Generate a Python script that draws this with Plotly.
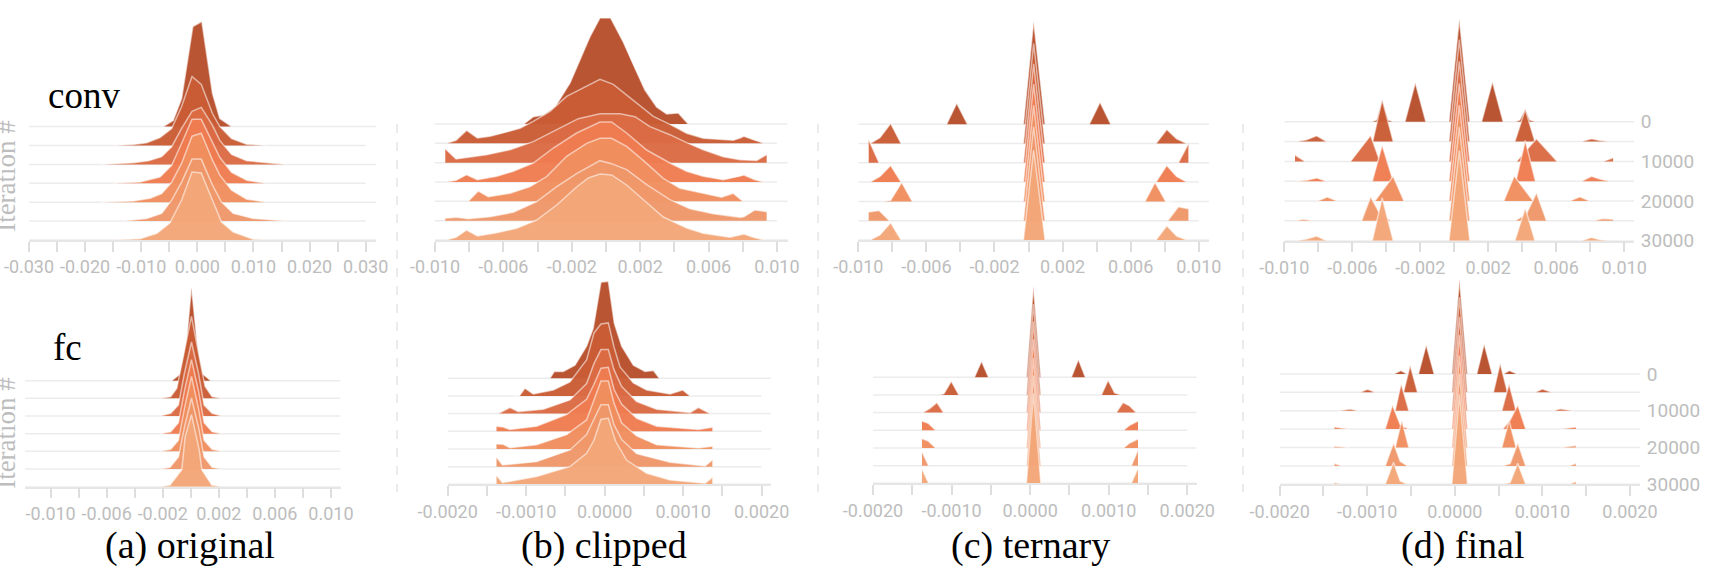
import plotly.graph_objects as go

W, H = 1717, 583
N = None

iterations = [0, 5000, 10000, 15000, 20000, 25000, 30000]
row_colors = ["#b84f2c", "#c95d36", "#db6b44", "#f07d52", "#ef8e5f", "#f0986a", "#f3a678"]

# x is in thousandths of the gradient value; h is the ridge height
conv_original_x = [
    [-6.06, -4.3, -2.8, -0.8, 0.8, 2.7, 4.0, 6.1],
    [-14.96, -11.4, -9.03, -6.65, -4.57, -2.8, -0.95, 0.7, 2.7, 4.0, 6.1, 8.8, 12.35],
    [-17.3, -11.4, -8.7, -6.35, -4.57, -2.8, -0.95, 0.7, 2.7, 4.0, 6.1, 8.8, 15.9],
    [-14.96, -10.2, -6.65, -4.57, -2.8, -0.95, 0.7, 2.7, 4.0, 6.1, 8.8, 12.35],
    [-17.3, -11.4, -8.4, -6.35, -4.57, -2.8, -0.95, 0.7, 2.7, 4.0, 6.1, 8.8, 12.35],
    [-13.2, -9.03, -6.35, -4.57, -2.8, -0.95, 0.7, 2.7, 4.3, 6.4, 9.98, 15.9],
    [-14.96, -10.2, -7.2, -4.9, -2.8, -0.95, 0.7, 2.7, 4.3, 6.4, 9.98, 12.35],
]
conv_original_h = [
    [0, 6, 28, 100, 105, 33, 8, 0],
    [0, 1, 2.7, 8, 17, 39, 69, 61, 32, 19, 7, 1.3, 0],
    [0, 1.7, 3.7, 7.7, 17.7, 36, 53, 57, 39, 24, 10, 3.7, 0],
    [0, 1.3, 6.3, 18, 40, 64, 64, 41, 26, 11, 3, 0],
    [0, 1.3, 4, 8.7, 20, 39, 66, 69, 42, 27, 12, 3, 0],
    [0, 2.7, 7.7, 21, 39, 62, 62, 36, 19, 7.7, 2.7, 0],
    [0, 1.3, 6.7, 17, 40, 68, 67, 40, 18, 8, 0.7, 0],
]

conv_clipped_x = [
    [-4.8, -4.25, -3.66, -2.98, -2.1, -1.52, -0.94, -0.35, 0.27, 1.01, 1.6, 2.28, 2.96, 3.55, 4.23, 4.81],
    [-9.32, -8.77, -8.15, -7.52, -6.78, -6.0, -5.03, -4.25, -3.27, -2.3, -0.35, 0.43, 1.79, 2.77, 3.74, 4.72, 5.69, 7.45, 7.84, 8.07, 8.62, 9.24],
    [-9.4, -8.77, -6.98, -5.61, -4.25, -2.88, -1.62, -0.35, 0.82, 1.7, 2.57, 3.74, 4.72, 5.69, 6.86, 7.84, 8.81, 9.4],
    [-9.36, -8.77, -8.15, -7.52, -6.39, -5.42, -4.25, -3.08, -1.72, -0.35, 0.33, 1.21, 2.38, 3.74, 4.72, 5.69, 6.86, 7.84, 8.07, 8.71, 9.24],
    [-8.05, -7.47, -6.88, -5.61, -4.44, -3.47, -2.3, -1.13, -0.35, 0.33, 1.21, 2.18, 3.35, 4.33, 5.69, 6.76, 7.45, 7.84, 8.03],
    [-9.4, -8.77, -8.05, -6.78, -5.42, -4.05, -2.88, -1.72, -0.35, 0.33, 1.21, 2.38, 3.74, 4.91, 6.28, 7.84, 8.07, 8.71, 9.4],
    [-9.36, -8.77, -8.15, -7.52, -6.39, -5.22, -4.05, -2.88, -1.72, -1.03, -0.35, 0.33, 1.21, 2.38, 3.35, 4.72, 5.69, 7.25, 7.84, 8.07, 8.62, 9.24],
]
conv_clipped_h = [
    [0, 7.3, 9, 17, 41, 64, 87, 106, 106, 82, 59, 34, 17, 10, 11, 0],
    [0, 3, 13, 5.3, 7, 10.3, 15, 22, 32, 47, 64, 59, 40, 27, 19, 10, 5, 3, 5.3, 7, 3.7, 0],
    [14, 3.7, 8, 13, 21, 33, 44, 49, 49, 46, 36, 28, 20, 13, 6, 3, 2.3, 8],
    [0, 1.7, 7.3, 2.3, 5.7, 10.7, 19, 34, 49, 60, 60, 49, 32, 19, 10.7, 5.7, 2.3, 5.7, 7, 2.3, 0],
    [0, 10.3, 4.7, 8, 14.7, 24.7, 45, 58, 63, 63, 55, 41, 23, 13, 8, 4, 8, 2.3, 0],
    [2.3, 3.3, 2, 4, 8.3, 19, 34, 47, 60, 57, 51, 36, 21, 12, 7, 3.3, 4, 10.7, 9],
    [0, 2.7, 10, 4, 7.3, 11.7, 20, 35, 53, 62, 66, 65, 55, 37, 23, 12, 6.7, 2.7, 5, 6, 2.7, 0],
]

conv_ternary_x = [
    [-4.81, -4.22, -3.59, N, -0.3, 0.3, 0.97, N, 3.57, 4.2, 4.83],
    [-9.31, -8.73, -8.1, -7.49, N, -0.3, 0.3, 0.97, N, 7.49, 8.12, 8.7, 9.29],
    [-9.39, -8.78, N, -0.3, 0.3, 0.97, N, 8.8, 9.39],
    [-9.31, -8.73, -8.1, -7.49, N, -0.3, 0.3, 0.97, N, 7.49, 8.12, 8.7, 9.29],
    [-8.63, -8.1, -7.45, -6.83, N, -0.3, 0.3, 0.97, N, 6.84, 7.43, 8.06, 8.5],
    [-9.39, -8.78, -8.17, N, -0.3, 0.3, 0.97, N, 8.18, 8.8, 9.39],
    [-9.31, -8.73, -8.1, -7.49, N, -0.3, 0.3, 0.97, N, 7.49, 8.12, 8.7, 9.29],
]
conv_ternary_h = [
    [0, 21, 0, N, 0, 103, 0, N, 0, 22, 0],
    [0, 5.7, 20, 0, N, 0, 100, 0, N, 0, 14, 4.7, 0],
    [23, 0, N, 0, 99, 0, N, 0, 19],
    [0, 5.7, 16.7, 0, N, 0, 98, 0, N, 0, 16.7, 5.7, 0],
    [0, 1, 19, 0, N, 0, 96, 0, N, 0, 19, 0, 0],
    [8.7, 10.3, 0, N, 0, 94, 0, N, 0, 14, 12],
    [0, 5, 17.3, 0, N, 0, 90, 0, N, 0, 14.3, 4, 0],
]

conv_final_x = [
    [-4.86, -4.57, -4.24, -3.88, -3.59, N, -2.9, -2.29, -1.67, N, -0.31, 0.3, 0.92, N, 1.61, 2.25, 2.88, N, 3.57, 3.86, 4.18, 4.45, 4.8],
    [-9.27, -8.69, -8.1, -7.51, N, -4.8, -4.24, -3.59, N, -0.31, 0.3, 0.92, N, 3.57, 4.18, 4.75, N, 7.49, 8.08, 8.57, 9.16],
    [-9.37, -8.78, N, -6.1, -4.92, -4.37, N, -0.31, 0.3, 0.92, N, 3.67, 4.84, 6.06, N, 8.76, 9.35],
    [-9.27, -8.69, -8.1, -7.51, N, -4.82, -4.24, -3.59, N, -0.31, 0.3, 0.92, N, 3.63, 4.18, 4.78, N, 7.49, 8.08, 8.57, 9.16],
    [-8.04, -7.47, -6.88, N, -4.67, -3.59, -2.96, N, -0.31, 0.3, 0.92, N, 2.92, 3.53, 4.65, N, 6.8, 7.39, 7.98],
    [-9.37, -8.88, -8.29, N, -5.45, -4.92, -4.37, -3.69, N, -0.31, 0.3, 0.92, N, 3.57, 4.25, 4.84, 5.43, N, 8.18, 8.76, 9.35],
    [-9.27, -8.69, -8.1, -7.51, N, -4.82, -4.24, -3.59, N, -0.31, 0.3, 0.92, N, 3.57, 4.18, 4.75, N, 7.49, 8.08, 8.57, 9.16],
]
conv_final_h = [
    [0, 1.7, 21.7, 1.7, 0, N, 0, 39, 0, N, 0, 103, 0, N, 0, 40, 0, N, 0, 1.7, 12.7, 1.7, 0],
    [0, 1.7, 5.7, 0, N, 0, 41.7, 0, N, 0, 102, 0, N, 0, 32, 0, N, 0, 2.7, 1, 0],
    [6.3, 0, N, 0, 26, 0, N, 0, 100, 0, N, 0, 22.7, 0, N, 0, 3.7],
    [0, 1, 3.3, 0, N, 0, 36, 0, N, 0, 98, 0, N, 0, 40.7, 0, N, 0, 5, 2.3, 0],
    [0, 4, 0, N, 0, 24.7, 0, N, 0, 96, 0, N, 0, 25, 0, N, 0, 4.3, 0],
    [0, 1.7, 0, N, 0, 24, 7, 0, N, 0, 94, 0, N, 0, 7, 28, 0, N, 0, 2.3, 1.7],
    [0, 1.7, 4.7, 0, N, 0, 43, 0, N, 0, 90, 0, N, 0, 32.7, 0, N, 0, 3.3, 1, 0],
]

fc_original_x = [
    [-1.36, -0.64, -0.29, 0.05, 0.43, 0.74, 1.43],
    [-2.19, -1.43, -1.0, -0.52, 0.05, 0.6, 1.02, 1.52, 2.21],
    [-2.19, -1.43, -0.88, -0.45, 0.05, 0.55, 0.95, 1.52, 2.21],
    [-2.19, -1.43, -0.88, -0.45, 0.05, 0.55, 0.95, 1.52, 2.21],
    [-2.19, -1.43, -0.88, -0.45, 0.05, 0.55, 0.95, 1.52, 2.21],
    [-2.19, -1.48, -0.88, -0.45, 0.05, 0.55, 0.95, 1.52, 2.21],
    [-2.19, -1.48, -0.64, -0.4, 0.05, 0.6, 0.79, 1.5, 2.21],
]
fc_original_h = [
    [0, 8, 41, 94, 41, 8, 0],
    [0, 1.7, 10, 42, 82, 42, 12, 1.7, 0],
    [0, 2.7, 11, 43, 74, 43, 11, 2.7, 0],
    [0, 2, 11, 43, 74, 43, 11, 2, 0],
    [0, 2, 11, 43, 75, 43, 11, 2, 0],
    [0, 1.7, 12, 42, 71, 42, 12, 1.7, 0],
    [0, 1.7, 17, 50, 72, 37, 17, 1.7, 0],
]

fc_clipped_x = [
    [-0.697, -0.642, -0.527, -0.378, -0.23, -0.145, -0.047, 0.047, 0.123, 0.217, 0.366, 0.514, 0.621, 0.697],
    [-1.157, -1.088, -1.016, -0.91, -0.655, -0.442, -0.23, -0.136, -0.047, 0.047, 0.119, 0.196, 0.366, 0.536, 0.833, 0.995, 1.088],
    [-1.356, -1.207, -1.101, -0.782, -0.442, -0.23, -0.136, -0.047, 0.047, 0.119, 0.217, 0.408, 0.663, 1.088, 1.195, 1.344],
    [-1.378, -1.293, -1.207, -0.867, -0.485, -0.23, -0.136, -0.047, 0.047, 0.119, 0.217, 0.408, 0.663, 1.195, 1.373],
    [-1.378, -1.293, -1.207, -0.867, -0.485, -0.23, -0.136, -0.047, 0.047, 0.119, 0.217, 0.408, 0.663, 1.195, 1.373],
    [-1.378, -1.301, -0.867, -0.442, -0.23, -0.136, -0.047, 0.047, 0.119, 0.217, 0.408, 0.833, 1.28, 1.373],
    [-1.378, -1.301, -0.867, -0.442, -0.23, -0.136, -0.047, 0.047, 0.14, 0.281, 0.536, 0.833, 1.28, 1.373],
]
fc_clipped_h = [
    [0, 6.7, 6.7, 13, 32, 50, 96, 97, 55, 32, 13, 6.7, 7.7, 0],
    [0, 0, 7.7, 2, 6, 14, 36, 63, 72, 73, 49, 29, 13, 6, 2, 6, 0],
    [0, 6, 2, 4.3, 13.7, 30, 50, 64, 64, 44, 27, 12, 4.3, 1, 6, 0],
    [5, 4.3, 1.7, 5, 16.7, 32, 47, 63, 64, 42, 27, 13, 5, 1.7, 4],
    [5, 4.7, 1.3, 4.3, 14.3, 29, 49, 68, 68, 46, 26, 13, 4.3, 1, 2.7],
    [9.3, 1.7, 5, 16.7, 32, 47, 62, 62, 42, 27, 13, 4.3, 0.7, 6.7],
    [8.7, 1.7, 7.7, 17.7, 31, 44, 65, 66, 43, 24, 11, 4.3, 1, 7],
]

fc_ternary_x = [
    [-0.708, -0.619, -0.53, N, -0.047, 0.042, 0.136, N, 0.525, 0.614, 0.703],
    [-1.157, -1.097, -1.004, -0.907, N, -0.047, 0.042, 0.136, N, 0.907, 0.992, 1.076, 1.161],
    [-1.364, -1.275, -1.186, -1.102, N, -0.047, 0.042, 0.136, N, 1.097, 1.182, 1.267, 1.352],
    [-1.377, -1.297, -1.203, N, -0.047, 0.042, 0.136, N, 1.19, 1.267, 1.373],
    [-1.377, -1.297, -1.203, N, -0.047, 0.042, 0.136, N, 1.19, 1.267, 1.373],
    [-1.377, -1.292, N, -0.047, 0.042, 0.136, N, 1.288, 1.373],
    [-1.377, -1.292, N, -0.047, 0.042, 0.136, N, 1.288, 1.373],
]
fc_ternary_h = [
    [0, 16, 0, N, 0, 91, 0, N, 0, 17.7, 0],
    [0, 1.3, 13.7, 0, N, 0, 91, 0, N, 0, 14.7, 2, 0],
    [0, 4.3, 10, 0, N, 0, 91, 0, N, 0, 10, 6.7, 0],
    [9.3, 7, 0, N, 0, 91, 0, N, 0, 5, 9.3],
    [9.3, 7, 0, N, 0, 90, 0, N, 0, 5, 9],
    [14, 0, N, 0, 90, 0, N, 0, 15.7],
    [14.3, 0, N, 0, 90, 0, N, 0, 15],
]

fc_final_x = [
    [-0.693, -0.616, -0.548, N, -0.415, -0.327, -0.236, N, -0.034, 0.053, 0.145, N, 0.251, 0.335, 0.426, N, 0.556, 0.624, 0.708],
    [-1.081, -0.997, -0.909, N, -0.586, -0.51, -0.426, N, -0.034, 0.053, 0.145, N, 0.441, 0.518, 0.601, N, 0.917, 1.0, 1.107],
    [-1.328, -1.195, -1.1, N, -0.681, -0.613, -0.525, N, -0.034, 0.053, 0.145, N, 0.537, 0.62, 0.7, N, 1.126, 1.202, 1.354],
    [-1.374, -1.214, N, -0.795, -0.712, -0.624, -0.529, N, -0.034, 0.053, 0.145, N, 0.548, 0.632, 0.719, 0.81, N, 1.214, 1.381],
    [-1.374, -1.214, N, -0.681, -0.605, -0.525, N, -0.034, 0.053, 0.145, N, 0.537, 0.62, 0.7, N, 1.214, 1.381],
    [-1.374, -1.29, N, -0.795, -0.7, -0.624, -0.54, N, -0.034, 0.053, 0.145, N, 0.548, 0.632, 0.719, 0.81, N, 1.309, 1.381],
    [-1.374, -1.29, N, -0.795, -0.7, -0.624, -0.54, N, -0.034, 0.053, 0.145, N, 0.548, 0.632, 0.719, 0.81, N, 1.309, 1.381],
]
fc_final_h = [
    [0, 3.3, 0, N, 0, 29, 0, N, 0, 95, 0, N, 0, 30, 0, N, 0, 3.3, 0],
    [0, 3, 0, N, 0, 27, 0, N, 0, 95, 0, N, 0, 29, 0, N, 0, 3.3, 0],
    [0, 1.7, 0, N, 0, 27, 0, N, 0, 94, 0, N, 0, 27, 0, N, 0, 2, 0],
    [2, 0, N, 0, 24, 4.3, 0, N, 0, 94, 0, N, 0, 9, 24, 0, N, 0, 2],
    [1.3, 0, N, 0, 27, 0, N, 0, 92, 0, N, 0, 27, 0, N, 0, 2],
    [2.3, 0, N, 0, 23, 4.7, 0, N, 0, 92, 0, N, 0, 2.3, 23, 0, N, 0, 2.7],
    [1.7, 0, N, 0, 22, 3.3, 0, N, 0, 90, 0, N, 0, 1.7, 21, 0, N, 0, 2.7],
]

# tick values (thousandths) and their labels
ticks_wide = [-30, -25, -20, -15, -10, -5, 0, 5, 10, 15, 20, 25, 30]
labels_wide = ["-0.030", "", "-0.020", "", "-0.010", "", "0.000", "", "0.010", "", "0.020", "", "0.030"]
ticks_mid = [-10, -8, -6, -4, -2, 0, 2, 4, 6, 8, 10]
labels_mid = ["-0.010", "", "-0.006", "", "-0.002", "", "0.002", "", "0.006", "", "0.010"]
ticks_fine = [-2, -1.5, -1, -0.5, 0, 0.5, 1, 1.5, 2]
labels_fine = ["-0.0020", "", "-0.0010", "", "0.0000", "", "0.0010", "", "0.0020"]

line_end_a = [31.84, 30, 31.84, 30, 31.84, 30, 31.84]
line_end_b = [10.63, 10, 10.63, 10, 10.63, 10, 10.63]
line_end_c = [10.6, 10, 10.6, 10, 10.6, 10, 10.6]
line_end_d = [10.58] * 7
line_end_e = [10.7] * 7
line_end_f = [2.12, 2, 2.12, 2, 2.12, 2, 2.12]
line_end_g = [2.12, 2, 2.12, 2, 2.12, 2, 2.12]
line_end_h = [2.115] * 7

# layout of each panel in page pixels
panels = [
    dict(x=conv_original_x, h=conv_original_h, end=line_end_a, tv=ticks_wide, tt=labels_wide,
         left=29, right=376, xmin=-30, xmax=31.84, base=240, step=18.9, top=2, fs=18),
    dict(x=conv_clipped_x, h=conv_clipped_h, end=line_end_b, tv=ticks_mid, tt=labels_mid,
         left=435, right=787.7, xmin=-10, xmax=10.63, base=240, step=19.33, top=2, fs=18),
    dict(x=conv_ternary_x, h=conv_ternary_h, end=line_end_c, tv=ticks_mid, tt=labels_mid,
         left=858.3, right=1209, xmin=-10, xmax=10.6, base=240, step=19.3, top=2, fs=18),
    dict(x=conv_final_x, h=conv_final_h, end=line_end_d, tv=ticks_mid, tt=labels_mid,
         left=1284.3, right=1634, xmin=-10, xmax=10.58, base=240.7, step=19.83, top=2, fs=18, right_axis=True),
    dict(x=fc_original_x, h=fc_original_h, end=line_end_e, tv=ticks_mid, tt=labels_mid,
         left=25, right=340.7, xmin=-11.83, xmax=10.7, base=486.7, step=17.67, top=270, fs=18),
    dict(x=fc_clipped_x, h=fc_clipped_h, end=line_end_f, tv=ticks_fine, tt=labels_fine,
         left=447.7, right=771, xmin=-2, xmax=2.12, base=484.3, step=17.67, top=270, fs=18),
    dict(x=fc_ternary_x, h=fc_ternary_h, end=line_end_g, tv=ticks_fine, tt=labels_fine,
         left=873, right=1196.7, xmin=-2, xmax=2.12, base=483.3, step=17.67, top=270, fs=18),
    dict(x=fc_final_x, h=fc_final_h, end=line_end_h, tv=ticks_fine, tt=labels_fine,
         left=1279.7, right=1640, xmin=-2, xmax=2.115, base=484.3, step=18.4, top=270, fs=18, right_axis=True),
]

fig = go.Figure()
layout = {}
GREY = "#bdbdbd"
for i, p in enumerate(panels):
    n = "" if i == 0 else str(i + 1)
    xa, ya = "x" + n, "y" + n
    k = 5000 / p["step"]
    layout["xaxis" + n] = dict(
        domain=[p["left"] / W, p["right"] / W], range=[p["xmin"], p["xmax"]],
        anchor=ya, showgrid=False, zeroline=False, showline=True, linecolor="#e6e6e6", linewidth=1.5,
        ticks="outside", ticklen=10, tickwidth=1.5, tickcolor="#dedede",
        tickmode="array", tickvals=p["tv"], ticktext=p["tt"],
        tickfont=dict(family="Roboto", size=p["fs"], color=GREY),
    )
    yax = dict(
        domain=[1 - p["base"] / H, 1 - p["top"] / H],
        range=[30000, 30000 - (p["base"] - p["top"]) * k],
        anchor=xa, showgrid=False, zeroline=False, showline=False,
    )
    if p.get("right_axis"):
        yax.update(anchor="free", position=p["right"] / W, side="right", ticks="outside",
                   ticklen=2, tickcolor="rgba(255,255,255,0)", tickmode="array",
                   tickvals=[0, 10000, 20000, 30000], ticktext=["0", "10000", "20000", "30000"],
                   tickfont=dict(family="Roboto", size=p["fs"] + 1, color=GREY))
    else:
        yax.update(showticklabels=False, ticks="")
    layout["yaxis" + n] = yax

    for r, it in enumerate(iterations):
        # pale baseline for this iteration
        fig.add_trace(go.Scatter(x=[p["xmin"], p["end"][r]], y=[it, it], xaxis=xa, yaxis=ya, mode="lines",
                                 line=dict(color="#ececec", width=1.5), hoverinfo="skip", showlegend=False))
        xs, hs = p["x"][r], p["h"][r]
        fx, fy, ox, oy = [], [], [], []
        seg_open = False
        for j, (vx, vh) in enumerate(zip(xs, hs)):
            if vx is None:
                fx.extend([fx[-1], None]); fy.extend([it, None])
                ox.append(None); oy.append(None)
                seg_open = False
                continue
            if not seg_open:
                fx.append(vx); fy.append(it)
                seg_open = True
            fx.append(vx); fy.append(it - vh * k)
            ox.append(vx); oy.append(it - vh * k)
        fx.append(fx[-1]); fy.append(it)
        fig.add_trace(go.Scatter(x=fx, y=fy, xaxis=xa, yaxis=ya, mode="none", fill="toself",
                                 fillcolor=row_colors[r], opacity=0.97, hoverinfo="skip", showlegend=False))
        fig.add_trace(go.Scatter(x=ox, y=oy, xaxis=xa, yaxis=ya, mode="lines",
                                 line=dict(color="rgba(255,255,255,0.55)", width=1.5),
                                 hoverinfo="skip", showlegend=False))

def text(s, px, py, size, color="black", angle=0):
    return dict(text=s, x=px / W, y=1 - py / H, xref="paper", yref="paper", showarrow=False,
                xanchor="center", yanchor="middle", textangle=angle,
                font=dict(family="Liberation Serif", size=size, color=color))

annotations = [
    text("conv", 84, 95, 37), text("fc", 67.5, 347, 37),
    text("(a) original", 190, 545, 38), text("(b) clipped", 604, 545, 38),
    text("(c) ternary", 1030, 545, 38), text("(d) final", 1462, 545, 38),
]
separators = [
    dict(type="line", xref="paper", yref="paper", x0=sx / W, x1=sx / W, y0=1 - 124 / H, y1=1 - 492 / H,
         line=dict(color="#d8d8d8", width=1, dash="dash"))
    for sx in [397, 818, 1243]
]
# "Iteration #" is cropped by the left page edge
side_labels = [
    dict(type="rect", xref="paper", yref="paper", x0=-7 / W, x1=13 / W, y0=1 - (176 + ly) / H, y1=1 - (176 + ly - 40) / H,
         line=dict(width=0), fillcolor="rgba(0,0,0,0)",
         label=dict(text="Iteration #", textangle=-90, textposition="middle center",
                    font=dict(family="Liberation Serif", size=27, color="#bdbdbd")))
    for ly in [20, 277]
]

fig.update_layout(width=W, height=H, margin=dict(l=0, r=0, t=0, b=0, autoexpand=False), paper_bgcolor="white",
                  plot_bgcolor="rgba(0,0,0,0)", showlegend=False, annotations=annotations,
                  shapes=separators + side_labels, **layout)
fig.write_html("out.html", config={"displayModeBar": False},
               post_script="document.body.style.margin='0';document.body.style.overflow='hidden';")
